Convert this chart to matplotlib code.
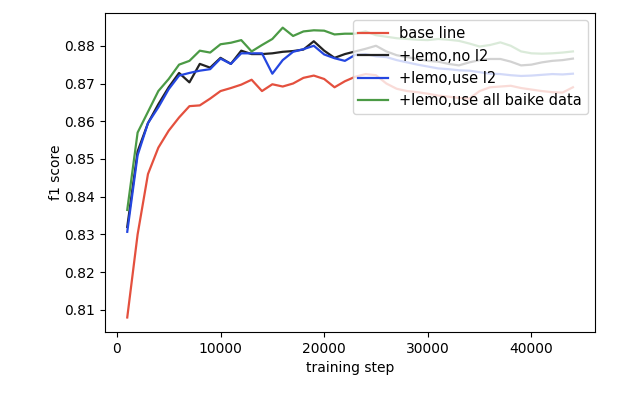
"""F1 score vs training step for the lemo experiments."""
import matplotlib
matplotlib.use("Agg")
import matplotlib.pyplot as plt
import numpy as np

steps = np.arange(1000, 45000, 1000)

base_line = [
    0.808, 0.830, 0.846, 0.853, 0.8575, 0.861, 0.864, 0.8642, 0.866, 0.868,
    0.8688, 0.8697, 0.871, 0.868, 0.8698, 0.8692, 0.870, 0.8715, 0.8721, 0.8712,
    0.869, 0.8706, 0.8718, 0.8725, 0.8722, 0.870, 0.8686, 0.868, 0.8677, 0.8673,
    0.8668, 0.8665, 0.8662, 0.866, 0.868, 0.869, 0.8692, 0.8694, 0.8688, 0.8684,
    0.868, 0.8677, 0.8676, 0.869,
]
lemo_no_l2 = [
    0.832, 0.852, 0.8595, 0.8645, 0.869, 0.8728, 0.8703, 0.8752, 0.8742, 0.8768,
    0.8752, 0.8787, 0.8778, 0.8778, 0.878, 0.8784, 0.8786, 0.879, 0.8812, 0.8787,
    0.8768, 0.8778, 0.8785, 0.8792, 0.880, 0.8785, 0.8775, 0.877, 0.8765, 0.876,
    0.8758, 0.8752, 0.8748, 0.8756, 0.8762, 0.8765, 0.8765, 0.8758, 0.8748, 0.875,
    0.8756, 0.876, 0.8762, 0.8766,
]
lemo_use_l2 = [
    0.8307, 0.851, 0.8595, 0.8637, 0.8685, 0.8721, 0.8728, 0.8734, 0.8738, 0.8766,
    0.8752, 0.878, 0.878, 0.878, 0.8726, 0.8762, 0.8784, 0.8791, 0.880, 0.8777,
    0.8767, 0.876, 0.8776, 0.8778, 0.8772, 0.877, 0.8762, 0.8756, 0.875, 0.8745,
    0.874, 0.8738, 0.8735, 0.8734, 0.873, 0.8726, 0.8725, 0.8722, 0.872, 0.8721,
    0.8723, 0.8725, 0.8724, 0.8726,
]
lemo_all_baike = [
    0.8365, 0.857, 0.8625, 0.868, 0.8712, 0.875, 0.876, 0.8787, 0.8782, 0.8804,
    0.8808, 0.8815, 0.8785, 0.8802, 0.8818, 0.8848, 0.8826, 0.8838, 0.8841, 0.884,
    0.883, 0.8832, 0.8832, 0.8838, 0.8828, 0.8824, 0.882, 0.8818, 0.8816, 0.8815,
    0.8818, 0.8816, 0.8813, 0.8806, 0.8798, 0.8802, 0.8809, 0.880, 0.8785, 0.878,
    0.8779, 0.878, 0.8782, 0.8785,
]

series = [
    ("base line", base_line, "#e4503e"),
    ("+lemo,no l2", lemo_no_l2, "#222222"),
    ("+lemo,use l2", lemo_use_l2, "#2446e0"),
    ("+lemo,use all baike data", lemo_all_baike, "#4b9a45"),
]

fig = plt.figure(figsize=(6.4, 3.99), dpi=100)
ax = fig.add_axes([0.164, 0.168, 0.766, 0.799])
for label, values, color in series:
    ax.plot(steps, values, color=color, linewidth=1.6, label=label)

ax.set_xlabel("training step")
ax.set_ylabel("f1 score", labelpad=1)
ax.legend(loc="upper right", fontsize=10.5)

fig.savefig("out.png", dpi=100)
